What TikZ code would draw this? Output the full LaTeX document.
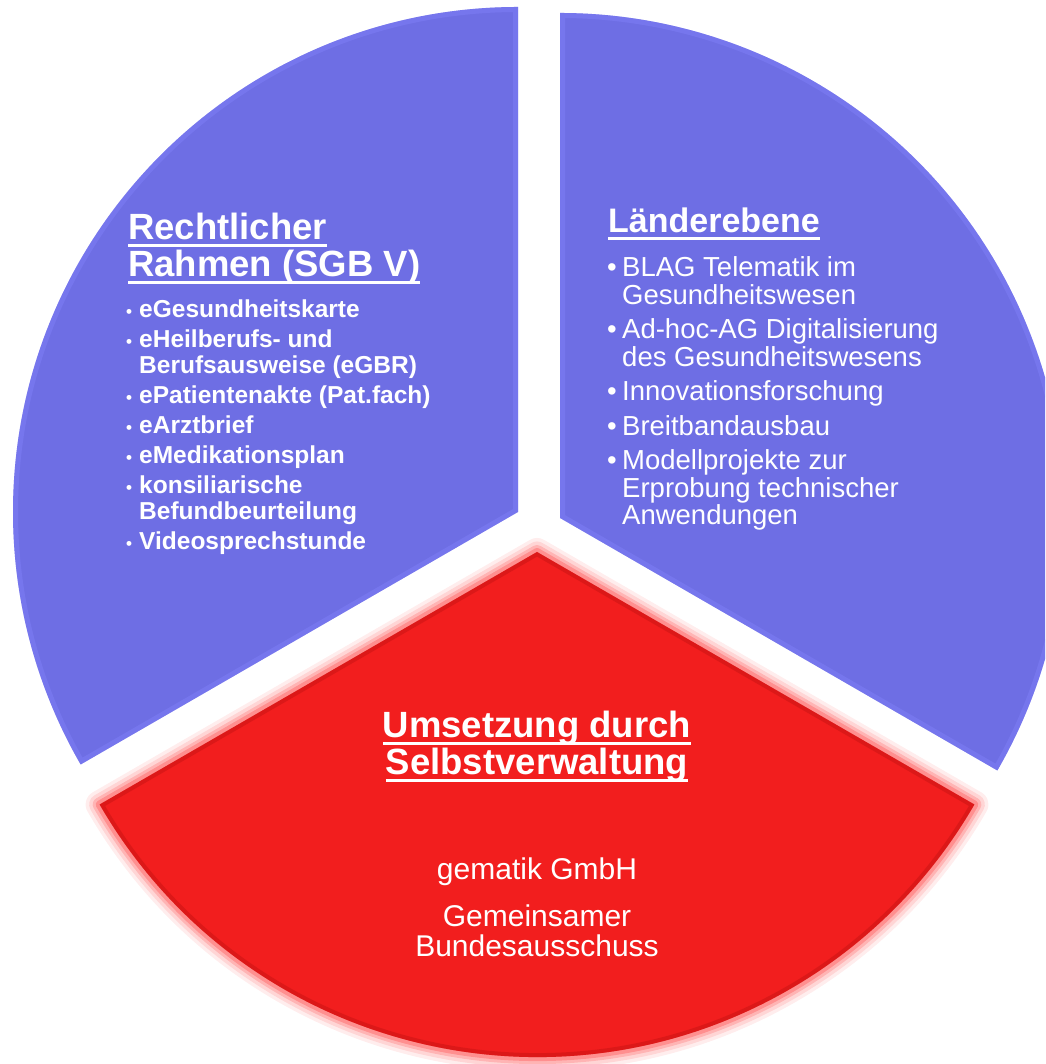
\documentclass[tikz,border=0pt]{standalone}
\usepackage{fontspec}
\setmainfont{Liberation Sans}
\usepackage{xcolor}
\usepackage{tikz}

\definecolor{segblue}{RGB}{110,110,228}
\definecolor{segblueedge}{RGB}{135,135,255}
\definecolor{segred}{RGB}{242,30,30}
\definecolor{segreddark}{RGB}{200,20,20}
\definecolor{segglow}{RGB}{255,105,105}

\newcommand{\ulword}[1]{\setbox0=\hbox{#1}\rlap{\rule[-7pt]{\wd0}{2.5pt}}\box0}
\newcommand{\lbul}{\makebox[13pt][l]{\fontsize{17}{17}\selectfont\textbullet}}
\newcommand{\lind}{\hspace*{13pt}}
\newcommand{\rbul}{\makebox[15pt][l]{\textbullet}}
\newcommand{\rind}{\hspace*{15pt}}

\begin{document}
\begin{tikzpicture}[x=1pt,y=1pt,
    head/.style={inner sep=0pt,text=white,font=\bfseries\fontsize{36.5}{37}\selectfont},
    lefttext/.style={inner sep=0pt,text=white,align=left,font=\bfseries\fontsize{24.5}{26}\selectfont},
    righttext/.style={inner sep=0pt,text=white,align=left,font=\fontsize{27.5}{27.5}\selectfont},
    redtext/.style={inner sep=0pt,text=white,align=center,font=\fontsize{30}{30}\selectfont},
    glow/.style={draw=segglow,line join=round}]
    \useasboundingbox (0,0) rectangle (1045,1064);
    \clip (0,0) rectangle (1045,1064);
    \coordinate (al) at (518,552);
    \coordinate (ar) at (560,546);
    \coordinate (ab) at (537,512);

    \fill[segblue] (al) -- ++(90:505) arc (90:210:505) -- cycle;
    \begin{scope}
      \clip (al) -- ++(90:505) arc (90:210:505) -- cycle;
      \draw[segblueedge,line width=10pt,opacity=0.35] (al) -- ++(90:505) arc (90:210:505) -- cycle;
    \end{scope}
    \fill[segblue] (ar) -- ++(-30:505) arc (-30:90:505) -- cycle;
    \begin{scope}
      \clip (ar) -- ++(-30:505) arc (-30:90:505) -- cycle;
      \draw[segblueedge,line width=10pt,opacity=0.35] (ar) -- ++(-30:505) arc (-30:90:505) -- cycle;
    \end{scope}

    \foreach \w/\o in {28/0.12,21/0.18,14/0.3,8/0.5}
      \draw[glow,line width=\w pt,opacity=\o] (ab) -- ++(210:505) arc (210:330:505) -- cycle;
    \fill[segred] (ab) -- ++(210:505) arc (210:330:505) -- cycle;
    \begin{scope}
      \clip (ab) -- ++(210:505) arc (210:330:505) -- cycle;
      \draw[segreddark,line width=8pt,opacity=0.5] (ab) -- ++(210:505) arc (210:330:505) -- cycle;
    \end{scope}

    \node[head,align=left,anchor=base west] (lefthead) at (128,787)
      {\ulword{Rechtlicher}\\\ulword{Rahmen (SGB V)}};
    \node[lefttext,anchor=base west] (leftlist) at (126,514)
      {\lbul eGesundheitskarte\\[4pt]\lbul eHeilberufs- und\\\lind Berufsausweise (eGBR)\\[4pt]%
       \lbul ePatientenakte (Pat.fach)\\[4pt]\lbul eArztbrief\\[4pt]\lbul eMedikationsplan\\[4pt]%
       \lbul konsiliarische\\\lind Befundbeurteilung\\[4pt]\lbul Videosprechstunde};

    \node[head,font=\bfseries\fontsize{34}{34}\selectfont,anchor=base west] (righthead) at (608,831)
      {\ulword{Länderebene}};
    \node[righttext,anchor=base west] (rightlist) at (607,539)
      {\rbul BLAG Telematik im\\\rind Gesundheitswesen\\[7pt]\rbul Ad-hoc-AG Digitalisierung\\\rind des Gesundheitswesens\\[7pt]%
       \rbul Innovationsforschung\\[7pt]\rbul Breitbandausbau\\[7pt]%
       \rbul Modellprojekte zur\\\rind Erprobung technischer\\\rind Anwendungen};

    \node[head,align=center,anchor=base] (redhead) at (537,289)
      {\ulword{Umsetzung durch}\\\ulword{Selbstverwaltung}};
    \node[redtext,anchor=base] (redlist) at (537,107)
      {gematik GmbH\\[17pt]Gemeinsamer\\Bundesausschuss};
\end{tikzpicture}
\end{document}
